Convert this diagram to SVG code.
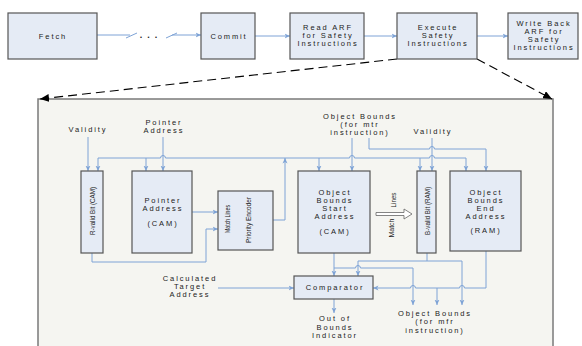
<svg xmlns="http://www.w3.org/2000/svg" width="582" height="346" viewBox="0 0 582 346">
<defs>
<marker id="ar" markerUnits="userSpaceOnUse" markerWidth="6" markerHeight="6" refX="5.5" refY="3" orient="auto">
<path d="M0,0.5 L5.5,3 L0,5.5 L1.5,3 Z" fill="#7ea3d6"/>
</marker>
<marker id="blk" markerUnits="userSpaceOnUse" markerWidth="10" markerHeight="8" refX="9" refY="4" orient="auto">
<path d="M0,0 L9,4 L0,8 Z" fill="#000"/>
</marker>
<style>
.box{fill:#e5ebf5;stroke:#555;stroke-width:1.2}
.t{font-family:"Liberation Sans",Arial,sans-serif;font-size:7.5px;letter-spacing:1.9px;fill:#222;text-anchor:middle}
.r{font-family:"Liberation Sans",Arial,sans-serif;font-size:8px;fill:#222;text-anchor:middle}
.c{fill:none;stroke:#7ea3d6;stroke-width:1}
.a{fill:none;stroke:#7ea3d6;stroke-width:1;marker-end:url(#ar)}
.d{fill:none;stroke:#000;stroke-width:1.1;stroke-dasharray:9,5;marker-end:url(#blk)}
</style>
</defs>
<rect x="0" y="0" width="582" height="346" fill="#fff"/>
<g id="detail-frame">
<rect x="38" y="99" width="515" height="260" fill="#f5f5f1" stroke="#7a7a7a" stroke-width="1.5"/>
</g>
<g id="connectors">
<path class="c" d="M97,35 H130"/>
<path class="c" d="M126,38 L137,33"/>
<text class="t" x="151" y="38" style="font-weight:bold;font-size:9px;letter-spacing:5px">...</text>
<path class="c" d="M166,38 L177,33"/>
<path class="a" d="M172,35 H201"/>
<path class="a" d="M255,36 H290"/>
<path class="a" d="M364,36 H397"/>
<path class="a" d="M477,36 H508"/>
<path class="d" d="M397,59 L40,99"/>
<path class="d" d="M477,59 L552,99"/>
<path class="a" d="M88,137 V171"/>
<path class="a" d="M163,137 V171"/>
<path class="c" d="M98,158 H160.5 a2.5,2.5 0 0 1 5,0 H349.5 a2.5,2.5 0 0 1 5,0 H429.5 a2.5,2.5 0 0 1 5,0 H466"/>
<path class="a" d="M98,158 V171"/>
<path class="a" d="M146,158 V171"/>
<path class="a" d="M319,158 V171"/>
<path class="a" d="M420,158 V171"/>
<path class="a" d="M466,158 V171"/>
<path class="a" d="M273,220 H285 V158"/>
<path class="a" d="M352,138 V171"/>
<path class="a" d="M369,138 V149 H429.5 a2.5,2.5 0 0 1 5,0 H486 V171"/>
<path class="a" d="M432,138 V171"/>
<path class="a" d="M192,212 H218"/>
<path class="a" d="M92,253 V262 H206 V229 H218"/>
<path d="M376,212.5 H404 V209 L412,214 L404,219 V215.5 H376 Z" fill="#fff" stroke="#666" stroke-width="0.8"/>
<path class="a" d="M334,253 V276"/>
<path class="a" d="M334,268 H355.5 a2.5,2.5 0 0 1 5,0 H413 V305"/>
<path class="c" d="M427,253 V261"/>
<path class="a" d="M358,261 H462 V305"/>
<path class="a" d="M358,261 V276"/>
<path class="a" d="M486,251 V288 H464.5 a2.5,2.5 0 0 0 -5,0 H415.5 a2.5,2.5 0 0 0 -5,0 H373"/>
<path class="a" d="M437,288 V305"/>
<path class="a" d="M218,288 H294"/>
<path class="a" d="M334,299 V313"/>
</g>
<g id="fetch">
<rect class="box" x="8" y="13" width="89" height="46"/>
<text class="t" x="53" y="39">Fetch</text>
</g>
<g id="commit">
<rect class="box" x="201" y="13" width="54" height="46"/>
<text class="t" x="229" y="39">Commit</text>
</g>
<g id="read-arf">
<rect class="box" x="290" y="13" width="74" height="46"/>
<text class="t" x="328" y="30">Read ARF</text>
<text class="t" x="328" y="38">for Safety</text>
<text class="t" x="328" y="46">Instructions</text>
</g>
<g id="execute">
<rect class="box" x="397" y="13" width="80" height="46"/>
<text class="t" x="438" y="30">Execute</text>
<text class="t" x="438" y="38">Safety</text>
<text class="t" x="438" y="46">Instructions</text>
</g>
<g id="write-back">
<rect class="box" x="508" y="13" width="70" height="46"/>
<text class="t" x="544" y="26">Write Back</text>
<text class="t" x="544" y="34">ARF for</text>
<text class="t" x="544" y="42">Safety</text>
<text class="t" x="544" y="50">Instructions</text>
</g>
<g id="validity-left">
<text class="t" x="88" y="132">Validity</text>
</g>
<g id="pointer-address-in">
<text class="t" x="164" y="125">Pointer</text>
<text class="t" x="164" y="133">Address</text>
</g>
<g id="r-valid">
<rect class="box" x="81" y="171" width="22" height="82"/>
<text class="r" transform="translate(92,211) rotate(-90)" x="0" y="3" textLength="48" lengthAdjust="spacingAndGlyphs">R-valid Bit (CAM)</text>
</g>
<g id="pointer-cam">
<rect class="box" x="132" y="171" width="60" height="82"/>
<text class="t" x="163" y="203">Pointer</text>
<text class="t" x="163" y="211">Address</text>
<text class="t" x="163" y="226">(CAM)</text>
</g>
<g id="priority-encoder">
<rect class="box" x="218" y="191" width="55" height="59"/>
<text class="r" transform="translate(227,219) rotate(-90)" x="0" y="3" textLength="28" lengthAdjust="spacingAndGlyphs">Match Lines</text>
<text class="r" transform="translate(248,220) rotate(-90)" x="0" y="3" textLength="46" lengthAdjust="spacingAndGlyphs">Priority Encoder</text>
</g>
<g id="mtr-bounds">
<text class="t" x="360" y="119">Object Bounds</text>
<text class="t" x="360" y="127">(for mtr</text>
<text class="t" x="360" y="135">instruction)</text>
</g>
<g id="validity-right">
<text class="t" x="433" y="134">Validity</text>
</g>
<g id="obs-cam">
<rect class="box" x="298" y="171" width="72" height="82"/>
<text class="t" x="335" y="195">Object</text>
<text class="t" x="335" y="203">Bounds</text>
<text class="t" x="335" y="211">Start</text>
<text class="t" x="335" y="219">Address</text>
<text class="t" x="335" y="234">(CAM)</text>
</g>
<g id="match-lines">
<text class="r" transform="translate(393,200) rotate(-90)" x="0" y="3" textLength="15" lengthAdjust="spacingAndGlyphs">Lines</text>
<text class="r" transform="translate(391,228) rotate(-90)" x="0" y="3" textLength="19" lengthAdjust="spacingAndGlyphs">Match</text>
</g>
<g id="b-valid">
<rect class="box" x="417" y="171" width="19" height="82"/>
<text class="r" transform="translate(427,211) rotate(-90)" x="0" y="3" textLength="48" lengthAdjust="spacingAndGlyphs">B-valid Bit (RAM)</text>
</g>
<g id="obe-ram">
<rect class="box" x="450" y="171" width="71" height="80"/>
<text class="t" x="486" y="195">Object</text>
<text class="t" x="486" y="203">Bounds</text>
<text class="t" x="486" y="211">End</text>
<text class="t" x="486" y="219">Address</text>
<text class="t" x="486" y="233">(RAM)</text>
</g>
<g id="calc-target">
<text class="t" x="190" y="281">Calculated</text>
<text class="t" x="190" y="289">Target</text>
<text class="t" x="190" y="297">Address</text>
</g>
<g id="comparator">
<rect class="box" x="294" y="276" width="79" height="23"/>
<text class="t" x="335" y="290">Comparator</text>
</g>
<g id="out-of-bounds">
<text class="t" x="335" y="321">Out of</text>
<text class="t" x="335" y="330">Bounds</text>
<text class="t" x="335" y="338">Indicator</text>
</g>
<g id="mfr-bounds">
<text class="t" x="435" y="316">Object Bounds</text>
<text class="t" x="435" y="324">(for mfr</text>
<text class="t" x="435" y="333">instruction)</text>
</g>
</svg>
